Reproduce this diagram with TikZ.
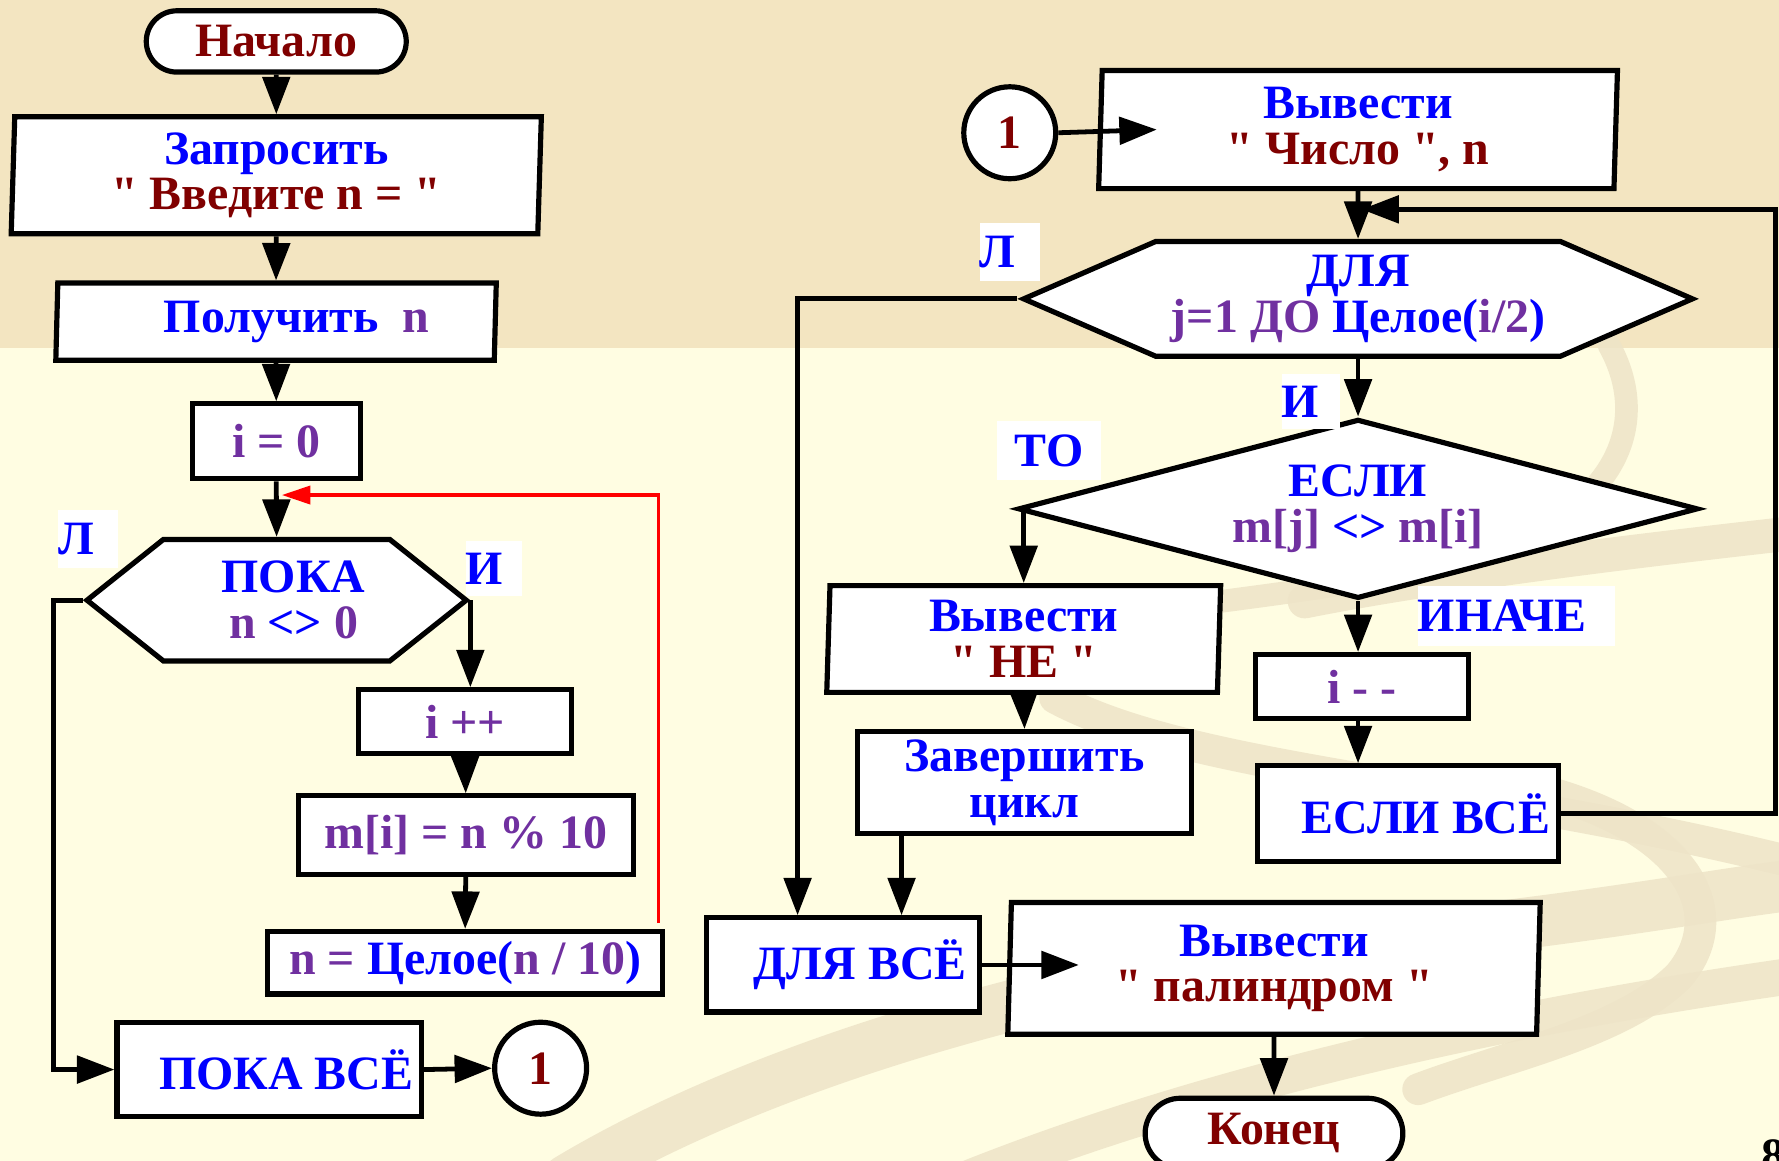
\documentclass[tikz,border=0pt]{standalone}
\usepackage{fontspec}
\newfontfamily\flowfont{Liberation Serif}
\usetikzlibrary{shapes.geometric,shapes.symbols,arrows.meta,calc,positioning}
\definecolor{kwblue}{RGB}{0,0,255}
\definecolor{strred}{RGB}{128,0,0}
\definecolor{varpurple}{RGB}{112,48,160}
\definecolor{topbg}{RGB}{243,229,193}
\definecolor{lowbg}{RGB}{255,253,226}
\definecolor{swoosh}{RGB}{238,228,200}

\begin{document}
\begin{tikzpicture}[x=0.01cm, y=-0.01cm,
        box/.style = {draw, fill=white, line width=1.3pt, inner sep=2pt, text=kwblue, align=center, font=\flowfont\fontsize{12}{11.5}\selectfont\bfseries},
        term/.style = {box, rounded corners=0.27cm, text=strred},
        io/.style = {box, trapezium, trapezium left angle=88, trapezium right angle=92, trapezium stretches body},
        hexa/.style = {box, signal, signal to=east and west},
        cond/.style = {box, diamond, aspect=3.8, inner sep=0pt},
        conn/.style = {draw, circle, fill=white, line width=1.3pt, minimum size=0.81cm, inner sep=0pt, text=strred, font=\flowfont\fontsize{12}{12}\selectfont\bfseries},
        lbl/.style = {fill=white, text=kwblue, anchor=west, inner sep=0pt, align=left, font=\flowfont\fontsize{12}{12}\selectfont\bfseries},
        band/.style = {swoosh, opacity=0.85, line cap=round},
        arr/.style = {line width=1.2pt, -{Triangle[length=0.33cm,width=0.24cm]}},
        ret/.style = {red, line width=0.8pt, -{Triangle[length=0.25cm,width=0.16cm]}}]
        \useasboundingbox (0,0) rectangle (1568,1023);
        % background
        \fill[lowbg] (0,0) rectangle (1568,1023);
        \fill[topbg] (0,0) rectangle (1568,307);
        \draw[band, line width=0.2cm] (1418,304) .. controls (1455,370) and (1430,450) .. (1300,490) .. controls (1180,525) and (1020,530) .. (900,560);
        \draw[band, line width=0.3cm] (1580,470) .. controls (1400,490) and (1250,510) .. (1150,530);
        \draw[band, line width=0.28cm] (930,615) .. controls (1050,680) and (1300,690) .. (1580,760);
        \draw[band, line width=0.28cm] (1330,690) .. controls (1480,720) and (1530,800) .. (1480,860) .. controls (1430,910) and (1330,930) .. (1250,960);
        \draw[band, line width=0.45cm] (500,1040) .. controls (700,920) and (1000,850) .. (1200,830) .. controls (1400,810) and (1500,790) .. (1580,780);
        \draw[band, line width=0.32cm] (850,1040) .. controls (1050,960) and (1300,900) .. (1580,860);

        % left column
        \node[term, minimum width=2.29cm, minimum height=0.54cm] (start) at (243.5,36.5) {Начало};
        \node[io, minimum width=4.67cm, minimum height=1.03cm] (ask) at (243.5,154.5) {Запросить\\\textcolor{strred}{" Введите n = "}};
        \node[io, minimum width=3.88cm, minimum height=0.68cm] (get) at (243.3,283.5) {\hspace*{0.36cm}Получить~~\textcolor{varpurple}{n}};
        \node[box, text=varpurple, minimum width=1.48cm, minimum height=0.66cm] (init) at (243.5,389) {i = 0};
        \node[hexa, signal pointer angle=77, minimum width=3.34cm, minimum height=1.07cm] (loop) at (243.8,529) {\hspace*{0.3cm}ПОКА\\\hspace*{0.3cm}\textcolor{varpurple}{n} <> \textcolor{varpurple}{0}};
        \node[box, text=varpurple, minimum width=1.88cm, minimum height=0.56cm] (inc) at (410,636) {i ++};
        \node[box, text=varpurple, minimum width=2.95cm, minimum height=0.69cm] (mod) at (410.5,736) {m[i] = n \% 10};
        \node[box, minimum width=3.48cm, minimum height=0.55cm] (div) at (410,848.5) {\textcolor{varpurple}{n =} Целое(\textcolor{varpurple}{n / 10})};
        \node[box, minimum width=2.67cm, minimum height=0.83cm] (endloop) at (237.2,942.7) {\hspace*{0.3cm}ПОКА ВСЁ};
        \node[conn] (c1) at (476.5,941.5) {1};
        \node[lbl, text width=0.53cm, minimum height=0.51cm] (f1) at (50.6,475.4) {Л};
        \node[lbl, text width=0.50cm, minimum height=0.48cm] (t1) at (409.7,501) {И};

        % right column
        \node[conn] (c2) at (890,117) {1};
        \node[io, minimum width=4.57cm, minimum height=1.04cm] (out1) at (1197,114.2) {Вывести\\\textcolor{strred}{" Число ", n}};
        \node[hexa, signal pointer angle=47, minimum width=5.89cm, minimum height=1.01cm] (for) at (1197,263.4) {ДЛЯ\\\textcolor{varpurple}{j=1 ДО} Целое(\textcolor{varpurple}{i/2})};
        \node[cond, minimum width=5.99cm, minimum height=1.58cm] (if) at (1197,448.5) {ЕСЛИ\\\textcolor{varpurple}{m[j]} <> \textcolor{varpurple}{m[i]}};
        \node[io, minimum width=3.47cm, minimum height=0.94cm] (no) at (902.3,563.2) {Вывести\\\textcolor{strred}{" НЕ "}};
        \node[box, minimum width=2.94cm, minimum height=0.82cm] (brk) at (903,689.7) {Завершить\\цикл};
        \node[box, text=varpurple, minimum width=1.88cm, minimum height=0.56cm] (dec) at (1200.5,605) {i - -};
        \node[box, minimum width=2.57cm, minimum height=0.84cm] (endif) at (1241,717) {\hspace*{0.32cm}ЕСЛИ ВСЁ};
        \node[box, minimum width=2.41cm, minimum height=0.83cm] (endfor) at (743,850.5) {\hspace*{0.3cm}ДЛЯ ВСЁ};
        \node[io, minimum width=4.69cm, minimum height=1.16cm] (out2) at (1122.9,853.5) {Вывести\\\textcolor{strred}{" палиндром "}};
        \node[term, rounded corners=0.31cm, minimum width=2.27cm, minimum height=0.62cm] (stop) at (1122.9,999) {Конец};
        \node[lbl, text width=0.53cm, minimum height=0.51cm] (f2) at (862.8,222.2) {Л};
        \node[lbl, text width=0.51cm, minimum height=0.48cm] (t2) at (1129,354) {И};
        \node[lbl, text width=0.92cm, minimum height=0.52cm, align=center] (yes) at (878,397) {ТО};
        \node[lbl, text width=1.74cm, minimum height=0.53cm] (els) at (1249,542.7) {ИНАЧЕ};
        \node[anchor=north west, inner sep=0pt, font=\flowfont\fontsize{12}{12}\selectfont\bfseries] (pg) at (1552,1004) {8};

        % connectors, left
        \draw[arr] (start.south) -- (ask.north);
        \draw[arr] (ask.south) -- (get.north);
        \draw[arr] (get.south) -- (init.north);
        \draw[arr] (init.south) -- (loop.north);
        \draw[arr] (loop.east) -- (loop.east |- inc.north);
        \draw[arr] (inc.south) -- (mod.north);
        \draw[arr] (mod.south) -- (div.north);
        \draw[arr] (loop.west) -- ++(-26,0) |- (endloop.west);
        \draw[arr] (endloop.east) -- (c1.west);
        \coordinate (back) at ($(div.north east)+(-6,-5)$);
        \coordinate (join) at ($(init.south)+(5,12)$);
        \draw[ret] (back) |- (join);

        % connectors, right
        \draw[arr] (c2.east) -- ($(out1.west)+(52,0)$);
        \draw[arr] (out1.south) -- (for.north);
        \coordinate (merge) at ($(out1.south)!0.38!(for.north)+(3,0)$);
        \coordinate (rim) at ($(merge)+(365,0)$);
        \draw[arr] (endif.east) -| (rim) -- (merge);
        \draw[arr] (for.west) -| ($(endfor.north)+(-40,0)$);
        \draw[arr] (for.south) -- (if.north);
        \draw[arr] (if.west -| no.north) -- (no.north);
        \draw[arr] (if.south) -- (if.south |- dec.north);
        \draw[arr] (dec.south -| if.south) -- (if.south |- endif.north);
        \draw[arr] (no.south) -- (brk.north);
        \coordinate (brkout) at ($(brk.south west)+(41,0)$);
        \draw[arr] (brkout) -- (brkout |- endfor.north);
        \draw[arr] (endfor.east) -- ++(85,0);
        \draw[arr] (out2.south) -- (stop.north);
\end{tikzpicture}
\end{document}
